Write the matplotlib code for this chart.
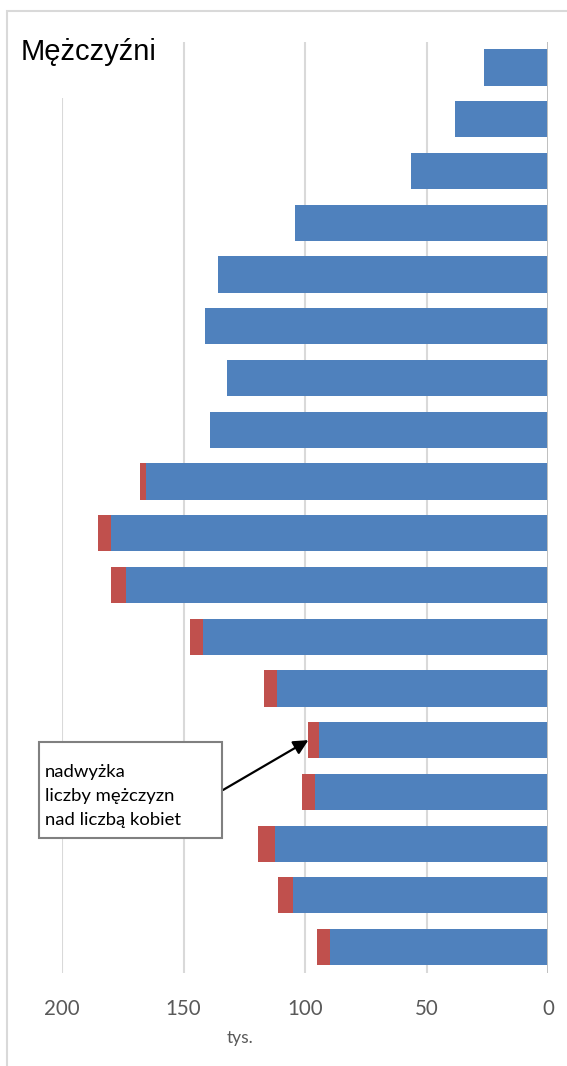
import matplotlib

matplotlib.use("Agg")
import matplotlib.pyplot as plt
from matplotlib.patches import Rectangle
import numpy as np

# age groups, top of the chart first (oldest) -- labels are not shown in the chart
grupy = ["85+", "80-84", "75-79", "70-74", "65-69", "60-64", "55-59", "50-54",
         "45-49", "40-44", "35-39", "30-34", "25-29", "20-24", "15-19",
         "10-14", "5-9", "0-4"]
# part of male population matched by women (tys.)
wspolna = [26.5, 38.3, 56.3, 104.1, 135.7, 141.0, 132.0, 139.2, 165.5,
           179.8, 173.6, 142.0, 111.4, 94.4, 95.9, 112.4, 105.1, 89.6]
# excess of men over women (tys.)
nadwyzka = [0, 0, 0, 0, 0, 0, 0, 0, 2.6, 5.4, 6.1, 5.4, 5.3, 4.2, 5.5,
            7.0, 6.1, 5.4]
x_ticks = [200, 150, 100, 50, 0]

W, H = 567, 1066
BLUE = "#4f81bd"
RED = "#c0504d"
GRAY_TXT = "#595959"


def fx(px):
    return px / W


def fy(py):
    return 1 - py / H


fig = plt.figure(figsize=(W / 100, H / 100), dpi=100)

# outer chart border (right and bottom fall outside the picture)
fig.patches.append(Rectangle((fx(7), fy(1100)), fx(700), fy(11) - fy(1100),
                             transform=fig.transFigure, fill=False,
                             edgecolor="#d9d9d9", lw=1.5, zorder=0))

ax = fig.add_axes([fx(62), fy(973), fx(548) - fx(62), fy(41.6) - fy(973)])
y = np.arange(len(grupy))
ax.barh(y, wspolna, left=0, height=0.70, color=BLUE, zorder=3)
ax.barh(y, nadwyzka, left=wspolna, height=0.70, color=RED, zorder=3)

ax.set_xlim(200, 0)
ax.set_ylim(len(grupy) - 0.5, -0.5)
ax.set_yticks([])
ax.set_xticks(x_ticks)
ax.set_xticklabels([str(t) for t in x_ticks])
ax.tick_params(axis="x", length=0, pad=18.5, labelsize=14.8, labelcolor=GRAY_TXT)
for lab in ax.get_xticklabels():
    lab.set_fontfamily("Lato")
for s in ax.spines.values():
    s.set_visible(False)
for t in x_ticks[:-1]:
    ax.axvline(t, color="#d9d9d9", lw=1.5, zorder=1)
ax.axvline(0, color="#bfbfbf", lw=1.4, zorder=4)

# white title area hides the top of the 200 gridline
fig.patches.append(Rectangle((fx(15), fy(98)), fx(155), fy(38) - fy(98),
                             transform=fig.transFigure, facecolor="white",
                             edgecolor="none", zorder=2))
fig.text(fx(21), fy(60), "Mężczyźni", fontsize=21, family="Liberation Sans",
         va="baseline", ha="left", zorder=5)

fig.text(fx(240), fy(1038), "tys.", fontsize=12.5, family="Lato",
         color=GRAY_TXT, ha="center", va="center")

# annotation box
fig.patches.append(Rectangle((fx(39.3), fy(838.3)), fx(183), fy(742.3) - fy(838.3),
                             transform=fig.transFigure, facecolor="white",
                             edgecolor="#808080", lw=1.5, zorder=6))
for line, base in zip(["nadwyżka", "liczby mężczyzn", "nad liczbą kobiet"],
                      [777, 801, 825.5]):
    fig.text(fx(45), fy(base), line, fontsize=13.3, family="Lato",
             va="baseline", ha="left", zorder=7)

ax.annotate("", xy=(wspolna[13] + nadwyzka[13], 13),
            xytext=(fx(223), fy(790)), textcoords="figure fraction",
            arrowprops=dict(arrowstyle="-|>", color="black", lw=1.6,
                            mutation_scale=22, shrinkA=0, shrinkB=0),
            zorder=8, annotation_clip=False)

fig.savefig("out.png", dpi=100)
